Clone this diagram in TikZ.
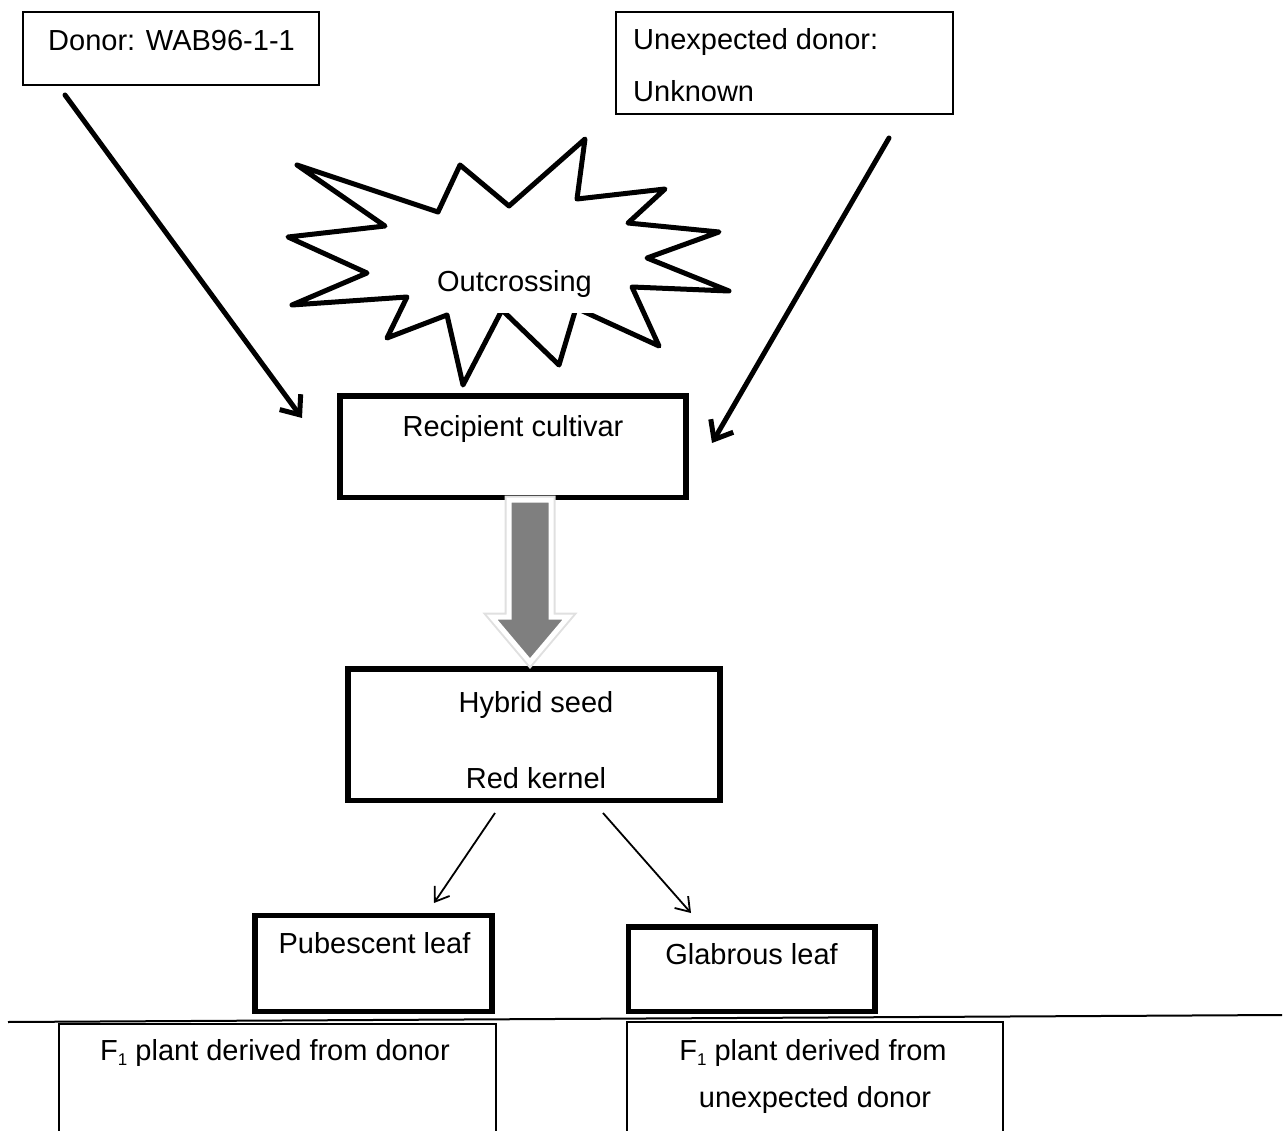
\documentclass[tikz,border=0pt]{standalone}
\usepackage{fontspec}
\setmainfont{Liberation Sans}
\usetikzlibrary{arrows.meta}
\definecolor{arrowgray}{HTML}{7F7F7F}
\tikzset{
  txt/.style={font=\fontsize{29}{35}\selectfont, inner sep=0pt},
  thinbox/.style={draw=black, line width=1.3pt, fill=white, inner sep=0pt},
  thickbox/.style={draw=black, line width=5.5pt, fill=white, inner sep=0pt},
  bigarrow/.style={line width=5pt, line cap=round, -{Straight Barb[length=16pt,width=26pt]}},
  smallarrow/.style={line width=1.8pt, -{Straight Barb[length=13pt,width=18pt]}},
  starline/.style={line width=5pt, line join=round, fill=white},
}
\newcommand{\subone}{\raisebox{-0.35ex}{\fontsize{17}{17}\selectfont 1}}
\begin{document}
\begin{tikzpicture}[x=1pt,y=-1pt]
\useasboundingbox (0,0) rectangle (1288,1131);
\clip (0,0) rectangle (1288,1131);

% top boxes
\node[thinbox, minimum width=296pt, minimum height=73pt] (donor) at (171,48.5) {};
\node[txt, anchor=base west] (donortxt) at (48,51) {Donor: WAB96-1-1};
\node[thinbox, minimum width=337pt, minimum height=102pt] (unexp) at (784.5,63) {};
\node[txt, anchor=base west] (unexptxt1) at (633,50) {Unexpected donor:};
\node[txt, anchor=base west] (unexptxt2) at (633,102) {Unknown};

% starburst
\draw[starline] (297,165) -- (438,212) -- (460,165) -- (509,206) -- (585,139)
  -- (577,199) -- (665,189) -- (628,223) -- (719,232) -- (647,258)
  -- (729,291) -- (632,287) -- (659,346) -- (576,308) -- (559,365)
  -- (502,310) -- (463,385) -- (447,315) -- (387,338) -- (407,297)
  -- (292,305) -- (367,273) -- (288,237) -- (385,226) -- cycle;
\fill[white] (449,250) rectangle (594,313);
\node[txt, anchor=base] (outc) at (514.5,292) {Outcrossing};

% recipient
\node[thickbox, minimum width=346pt, minimum height=101.5pt] (recip) at (513,446.75) {};
\node[txt, anchor=base] (reciptxt) at (513,437) {Recipient cultivar};

% big arrows
\coordinate (la) at (65,95);
\coordinate (lb) at (302,418);
\coordinate (ra) at (889,138);
\coordinate (rb) at (712,443);
\draw[bigarrow] (la) -- (lb);
\draw[bigarrow] (ra) -- (rb);

% hybrid seed
\node[thickbox, minimum width=372pt, minimum height=131.5pt] (hybrid) at (534,734.75) {};
\node[txt, anchor=base] (hyb1) at (536,712) {Hybrid seed};
\node[txt, anchor=base] (hyb2) at (536,788) {Red kernel};

% gray block arrow
\draw[black!12, line width=9pt, line join=miter]
  (509,500) -- (551,500) -- (551,617) -- (568,617) -- (530,662) -- (492,617) -- (509,617) -- cycle;
\filldraw[fill=arrowgray, draw=white, line width=5pt, line join=miter]
  (509,500) -- (551,500) -- (551,617) -- (568,617) -- (530,662) -- (492,617) -- (509,617) -- cycle;

% leaf boxes
\node[thickbox, minimum width=237pt, minimum height=96pt] (pub) at (373.5,963.5) {};
\node[txt, anchor=base] (pubtxt) at (374.5,953) {Pubescent leaf};
\node[thickbox, minimum width=246.5pt, minimum height=84.5pt] (glab) at (751.75,969.25) {};
\node[txt, anchor=base] (glabtxt) at (751.5,964) {Glabrous leaf};

% small arrows
\coordinate (s1a) at (495,813);
\coordinate (s1b) at (434,903);
\coordinate (s2a) at (603,813);
\coordinate (s2b) at (691,913);
\draw[smallarrow] (s1a) -- (s1b);
\draw[smallarrow] (s2a) -- (s2b);

% horizontal rule
\coordinate (h1) at (8,1022);
\coordinate (h2) at (1282,1015);
\draw[line width=2pt] (h1) -- (h2);

% bottom boxes
\node[thinbox, line width=1.6pt, minimum width=437pt, minimum height=140pt, anchor=north west] (f1l) at (58,1023) {};
\node[txt, anchor=base] (f1ltxt) at (275,1060) {F\subone\ plant derived from donor};
\node[thinbox, line width=1.6pt, minimum width=376pt, minimum height=140pt, anchor=north west] (f1r) at (626,1021) {};
\node[txt, anchor=base] (f1rtxt1) at (813,1060) {F\subone\ plant derived from};
\node[txt, anchor=base] (f1rtxt2) at (815,1107) {unexpected donor};
\end{tikzpicture}
\end{document}
